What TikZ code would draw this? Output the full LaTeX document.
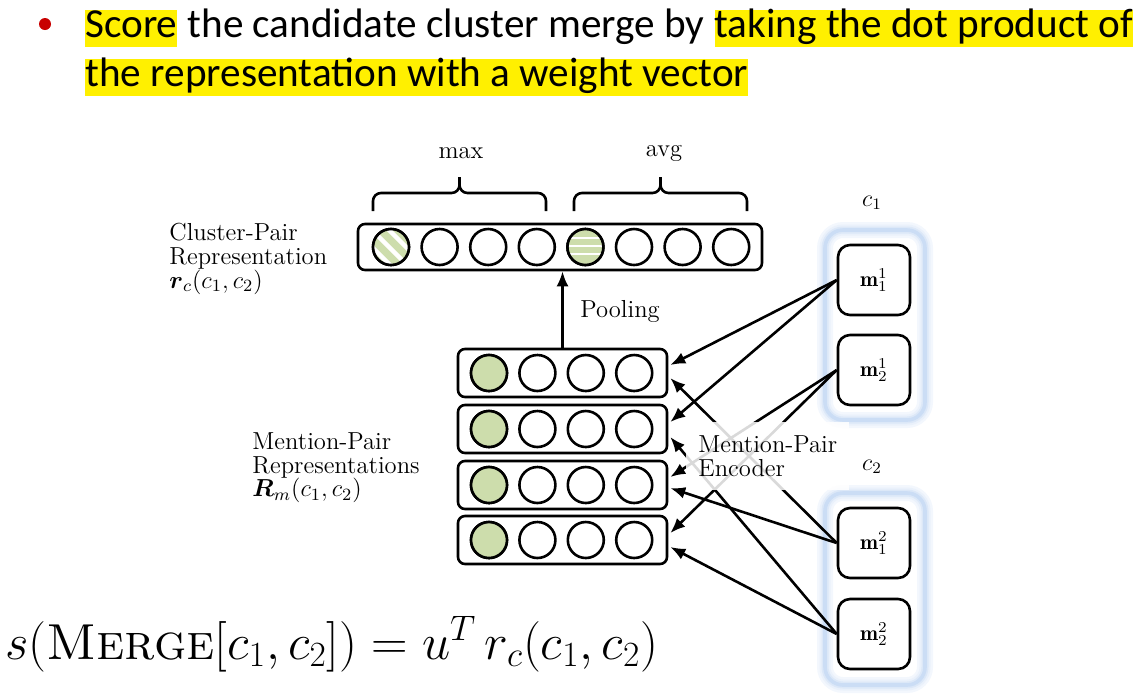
\RequirePackage{fix-cm}
\documentclass[tikz,border=0pt]{standalone}
\usepackage{amsmath,amsfonts}
\usepackage{fontspec}
\newfontfamily\slidefont{Carlito}
\usepackage{xcolor}
\usepackage{tikz}
\usetikzlibrary{arrows.meta,calc}

\definecolor{leaf}{RGB}{205,221,172}
\definecolor{glow}{RGB}{168,198,238}
\definecolor{marker}{RGB}{255,240,0}
\definecolor{dot}{RGB}{200,0,0}

\begin{document}
\begin{tikzpicture}[x=0.5pt, y=-0.5pt,
  every node/.style={font=\fontsize{12.3}{11.8}\selectfont},
  hl/.style={anchor=base west, inner sep=0pt, text height=13.5pt, text depth=5pt, font=\slidefont\fontsize{20.6}{20}\selectfont},
  vecbox/.style={draw, line width=1.3pt, rounded corners=3.5pt, inner sep=0pt},
  unit/.style={draw, circle, line width=1.3pt, minimum size=18pt, inner sep=0pt},
  mbox/.style={draw, fill=white, line width=1.3pt, rounded corners=6pt, minimum width=36pt, minimum height=35pt, inner sep=0pt, font=\fontsize{10.8}{10}\selectfont},
  link/.style={-{Latex[length=7.5pt,width=6pt]}, line width=1.3pt}
]
  \useasboundingbox (0,0) rectangle (1143,698);

  % Title bullet
  \fill[dot] (45,24) circle (6);
  \node[hl, fill=marker] (w1) at (85,37) {Score};
  \node[hl] (w2) at (w1.base east) {\ the candidate cluster merge by\ \null};
  \node[hl, fill=marker] (w3) at (w2.base east) {taking the dot product of};
  \node[hl, fill=marker] (w4) at (85,86) {the representation with a weight vector};

  % Cluster-pair vector
  \node[vecbox, minimum width=202pt, minimum height=23pt] (top) at (560,247) {};
  \foreach \i in {1,...,8} {
    \node[unit] (t\i) at (391+48.6*\i-48.6, 247) {};
  }
  \fill[leaf] (t1) circle (17);
  \fill[leaf] (t5) circle (17);
  \begin{scope}
    \clip (t1) circle (17);
    \foreach \d in {-19,-2,15} {
      \draw[white, line width=2.2pt] ($(t1)+(\d-30,-30)$) -- ++(60,60);
    }
  \end{scope}
  \begin{scope}
    \clip (t5) circle (17);
    \foreach \d in {-9,-1,7} {
      \draw[white, line width=1.3pt] ($(t5)+(-20,\d)$) -- ++(40,0);
    }
  \end{scope}
  \draw[line width=1.3pt] (t1) circle (18) (t5) circle (18);

  % Braces
  \foreach \a/\b in {373/546, 574/747} {
    \draw[line width=1.3pt, rounded corners=4pt] (\a,211) |- ({(\a+\b)/2},193) -- ({(\a+\b)/2},177);
    \draw[line width=1.3pt, rounded corners=4pt] (\b,211) |- ({(\a+\b)/2},193) -- ({(\a+\b)/2},177);
  }
  \node (max) at (461,153) {max};
  \node (avg) at (664,153) {avg};

  % Mention-pair rows
  \foreach \r/\y in {1/373, 2/429, 3/485, 4/540} {
    \node[vecbox, minimum width=104.5pt, minimum height=24pt] (r\r) at (562.5,\y) {};
    \foreach \c in {1,...,4} {
      \node[unit] (r\r c\c) at (489+48.4*\c-48.4, \y) {};
    }
    \fill[leaf] (r\r c1) circle (17);
    \draw[line width=1.3pt] (r\r c1) circle (18);
  }

  % Pooling
  \draw[link] (r1.north) -- (r1.north |- top.south);
  \node[anchor=west, inner sep=0pt] (pool) at (580,311) {Pooling};

  % Labels
  \node[anchor=west, align=left, inner sep=0pt] (cpr) at (169,259) {Cluster-Pair\\Representation\\$\boldsymbol{r}_c(c_1,c_2)$};
  \node[anchor=west, align=left, inner sep=0pt] (mpr) at (252,468) {Mention-Pair\\Representations\\$\boldsymbol{R}_m(c_1,c_2)$};

  % Clusters
  \foreach \w/\c in {8/14, 5.5/24, 3.5/40, 1.8/60} {
    \draw[glow!\c, line width=\w pt, rounded corners=9pt] (825,230) rectangle (925,420);
    \draw[glow!\c, line width=\w pt, rounded corners=9pt] (825,493) rectangle (925,685);
  }
  \node[font=\fontsize{12}{12}\selectfont] (c1) at (872,203) {$c_1$};
  \node[font=\fontsize{12}{12}\selectfont] (c2) at (872,467) {$c_2$};
  \node[mbox] (m11) at (874,280) {$\mathbf{m}^1_1$};
  \node[mbox] (m12) at (874,370) {$\mathbf{m}^1_2$};
  \node[mbox] (m21) at (874,543) {$\mathbf{m}^2_1$};
  \node[mbox] (m22) at (874,634) {$\mathbf{m}^2_2$};

  % Encoder links
  \coordinate (r1a) at ($(r1.east)+(2,-8)$);
  \coordinate (r1b) at ($(r1.east)+(2,5)$);
  \coordinate (r2a) at ($(r2.east)+(2,-7)$);
  \coordinate (r2b) at ($(r2.east)+(2,8)$);
  \coordinate (r3a) at ($(r3.east)+(2,-8)$);
  \coordinate (r3b) at ($(r3.east)+(2,3)$);
  \coordinate (r4a) at ($(r4.east)+(2,-7)$);
  \coordinate (r4b) at ($(r4.east)+(2,7)$);
  \draw[link] (m11.west) -- (r1a);
  \draw[link] (m11.west) -- (r2a);
  \draw[link] (m12.west) -- (r3a);
  \draw[link] (m12.west) -- (r4a);
  \draw[link] (m21.west) -- (r1b);
  \draw[link] (m21.west) -- (r3b);
  \draw[link] (m22.west) -- (r2b);
  \draw[link] (m22.west) -- (r4b);
  \node[anchor=west, align=left, fill=white, fill opacity=0.85, text opacity=1, inner xsep=6pt, inner ysep=7pt] (enc) at (686,456) {Mention-Pair\\Encoder};

  % Score
  \node[anchor=base west, inner sep=0pt, font=\fontsize{25.3}{25.3}\selectfont] (score) at (5,659) {$s(\textsc{Merge}[c_1,c_2]) = u^T\, r_c(c_1,c_2)$};
\end{tikzpicture}
\end{document}
